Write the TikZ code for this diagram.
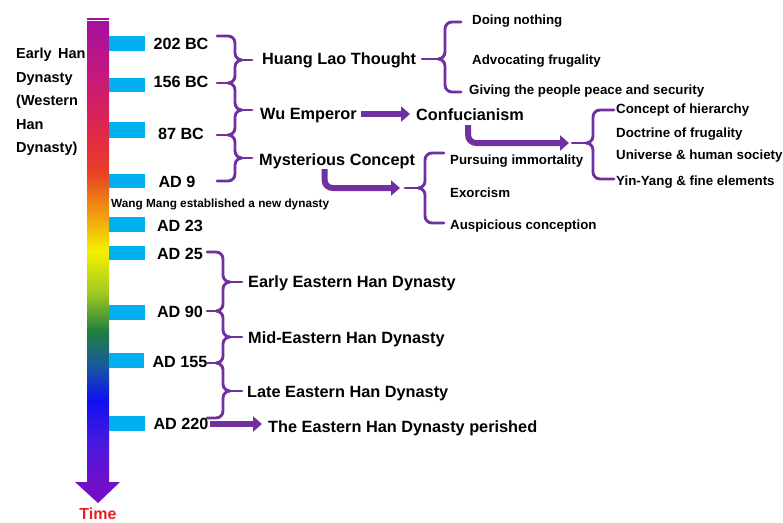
\documentclass[tikz,border=0pt]{standalone}
\usepackage{fontspec}
\setmainfont{Liberation Sans}
\usetikzlibrary{arrows.meta}
\definecolor{brpurple}{HTML}{7030A0}
\definecolor{tickblue}{HTML}{00B0F0}
\definecolor{timered}{HTML}{E82020}
\definecolor{ca}{HTML}{A4109E}
\definecolor{cb}{HTML}{C8187A}
\definecolor{cc}{HTML}{E02848}
\definecolor{cd}{HTML}{E84022}
\definecolor{ce}{HTML}{F08C14}
\definecolor{cf}{HTML}{F4F000}
\definecolor{cg}{HTML}{A4CC20}
\definecolor{ch}{HTML}{208040}
\definecolor{ci}{HTML}{1858A0}
\definecolor{cj}{HTML}{1010F0}
\definecolor{ck}{HTML}{4818E0}
\definecolor{cl}{HTML}{7010C8}
\pgfdeclareverticalshading{timeshade}{100bp}{color(0bp)=(cl); color(25bp)=(cl); color(29.6bp)=(ck); color(34bp)=(cj); color(37.7bp)=(ci); color(41.5bp)=(ch); color(45.8bp)=(cg); color(50.2bp)=(cf); color(55bp)=(ce); color(58.8bp)=(cd); color(63.1bp)=(cc); color(69.1bp)=(cb); color(75bp)=(ca); color(100bp)=(ca)}
\begin{document}
\begin{tikzpicture}[x=1pt,y=-1pt,
  brc/.style={draw=brpurple, line width=2.9pt, line cap=round, line join=round},
  bigarrow/.style={draw=brpurple, line width=6pt, -{Triangle[length=9pt,width=15pt]}},
  tickbar/.style={fill=tickblue},
  datelbl/.style={font=\fontsize{16.2}{18}\selectfont\bfseries, inner sep=1pt, text height=11.6pt, text depth=0pt},
  headlbl/.style={font=\fontsize{16.3}{18}\selectfont\bfseries, inner sep=1pt, anchor=west, text height=11.7pt, text depth=0pt},
  itemlbl/.style={font=\fontsize{13.3}{15}\selectfont\bfseries, inner sep=1pt, anchor=west, text height=9.5pt, text depth=0pt}]
\useasboundingbox (0,0) rectangle (783,522);
% time bar
\shade[shading=timeshade] (87,23) rectangle (109,483);
\fill[ca] (87,18) rectangle (109,19.6);
\fill[ca] (87,21) rectangle (109,22.6);
\fill[cl] (75,482) -- (120,482) -- (98,503) -- cycle;
\node[font=\fontsize{16}{18}\selectfont\bfseries, text=timered, inner sep=1pt, text height=11.5pt, text depth=0pt] (time) at (98,514) {Time};
% ticks
\fill[tickbar] (109,36) rectangle (145,51);
\fill[tickbar] (109,78) rectangle (145,92);
\fill[tickbar] (109,122) rectangle (145,138);
\fill[tickbar] (109,174) rectangle (145,188);
\fill[tickbar] (109,217) rectangle (145,232);
\fill[tickbar] (109,246) rectangle (145,260);
\fill[tickbar] (109,305) rectangle (145,320);
\fill[tickbar] (109,353) rectangle (144,368);
\fill[tickbar] (109,416) rectangle (145,431);
% left label
\node[anchor=north west, align=left, inner sep=0pt, font=\fontsize{14.5}{23.5}\selectfont\bfseries] (west) at (16,48) {Early\ \,Han\\Dynasty\\(Western\\Han\\Dynasty)};
% dates
\node[datelbl] (d202) at (181,43.5) {202 BC};
\node[datelbl] (d156) at (181,82) {156 BC};
\node[datelbl] (d87) at (181,134) {87 BC};
\node[datelbl] (d9) at (177,182) {AD 9};
\node[datelbl] (d23) at (180,226) {AD 23};
\node[datelbl] (d25) at (180,254) {AD 25};
\node[datelbl] (d90) at (180,312) {AD 90};
\node[datelbl] (d155) at (180,362) {AD 155};
\node[datelbl] (d220) at (181,424) {AD 220};
\node[anchor=west, inner sep=0pt, font=\fontsize{11.8}{13}\selectfont\bfseries, text height=8.4pt, text depth=0pt] (wm) at (111,203) {Wang Mang established a new dynasty};
% heads
\node[headlbl] (hl) at (261,59) {Huang Lao Thought};
\node[headlbl] (wu) at (259,114) {Wu Emperor};
\node[headlbl] (conf) at (415,115) {Confucianism};
\node[headlbl] (mc) at (258,160) {Mysterious Concept};
\node[headlbl] (ee) at (247,282) {Early Eastern Han Dynasty};
\node[headlbl] (me) at (247,338) {Mid-Eastern Han Dynasty};
\node[headlbl] (le) at (246,392) {Late Eastern Han Dynasty};
\node[headlbl] (per) at (267,427) {The Eastern Han Dynasty perished};
% items
\node[itemlbl] (i1) at (471,20) {Doing nothing};
\node[itemlbl] (i2) at (471,60) {Advocating frugality};
\node[itemlbl] (i3) at (468,90) {Giving the people peace and security};
\node[itemlbl] (c1) at (615,109) {Concept of hierarchy};
\node[itemlbl] (c2) at (615,133) {Doctrine of frugality};
\node[itemlbl] (c3) at (615,155) {Universe \& human society};
\node[itemlbl] (c4) at (615,181) {Yin-Yang \& fine elements};
\node[itemlbl] (m1) at (449,160) {Pursuing immortality};
\node[itemlbl] (m2) at (449,193) {Exorcism};
\node[itemlbl] (m3) at (449,225) {Auspicious conception};
% arrows
\coordinate (c3tip) at (569,143);
\coordinate (c4tip) at (400,188);
\draw[bigarrow, shorten <=3pt, shorten >=5pt] (wu.east) -- (wu.east -| conf.west);
\draw[bigarrow, shorten >=5pt] (d220.east) -- (d220.east -| per.west);
\draw[bigarrow, rounded corners=8pt, shorten <=3pt] ([xshift=-2pt]conf.south) |- (c3tip);
\draw[bigarrow, rounded corners=8pt, shorten <=2pt] ([xshift=-12.5pt]mc.south) |- (c4tip);
% brace 1
\draw[brc] (217,36) -- (228,36) to[out=0,in=90] (235,43) -- (235,53) to[out=-90,in=180] (242,60) to[out=180,in=90] (235,67) -- (235,76) to[out=-90,in=0] (228,83) to[out=0,in=90] (235,90) -- (235,103) to[out=-90,in=180] (242,110) to[out=180,in=90] (235,117) -- (235,128) to[out=-90,in=0] (228,135) to[out=0,in=90] (235,142) -- (235,151) to[out=-90,in=180] (242,158) to[out=180,in=90] (235,165) -- (235,174) to[out=-90,in=0] (228,181) -- (217,181);
\draw[brc] (242,60) -- (252,60);
\draw[brc] (228,83) -- (217,83);
\draw[brc] (242,110) -- (252,110);
\draw[brc] (228,135) -- (217,135);
\draw[brc] (242,158) -- (252,158);
% brace 2
\draw[brc] (461,22) -- (452,22) to[out=180,in=90] (445,29) -- (445,52) to[out=-90,in=0] (438,59) to[out=0,in=90] (445,66) -- (445,85) to[out=-90,in=180] (452,92) -- (461,92);
\draw[brc] (438,59) -- (422,59);
% brace 3
\draw[brc] (614,110) -- (600,110) to[out=180,in=90] (593,117) -- (593,136) to[out=-90,in=0] (586,143) to[out=0,in=90] (593,150) -- (593,172) to[out=-90,in=180] (600,179) -- (614,179);
\draw[brc] (586,143) -- (572,143);
% brace 4
\draw[brc] (444,153) -- (432,153) to[out=180,in=90] (425,160) -- (425,181) to[out=-90,in=0] (418,188) to[out=0,in=90] (425,195) -- (425,216) to[out=-90,in=180] (432,223) -- (444,223);
\draw[brc] (418,188) -- (405,188);
% brace 5
\draw[brc] (207,252) -- (216,252) to[out=0,in=90] (223,259) -- (223,275) to[out=-90,in=180] (230,282) to[out=180,in=90] (223,289) -- (223,304) to[out=-90,in=0] (216,311) to[out=0,in=90] (223,318) -- (223,330) to[out=-90,in=180] (230,337) to[out=180,in=90] (223,344) -- (223,356) to[out=-90,in=0] (216,363) to[out=0,in=90] (223,370) -- (223,384) to[out=-90,in=180] (230,391) to[out=180,in=90] (223,398) -- (223,411) to[out=-90,in=0] (216,418) -- (207,418);
\draw[brc] (230,282) -- (242,282);
\draw[brc] (216,311) -- (207,311);
\draw[brc] (230,337) -- (242,337);
\draw[brc] (216,363) -- (207,363);
\draw[brc] (230,391) -- (242,391);
\end{tikzpicture}
\end{document}
